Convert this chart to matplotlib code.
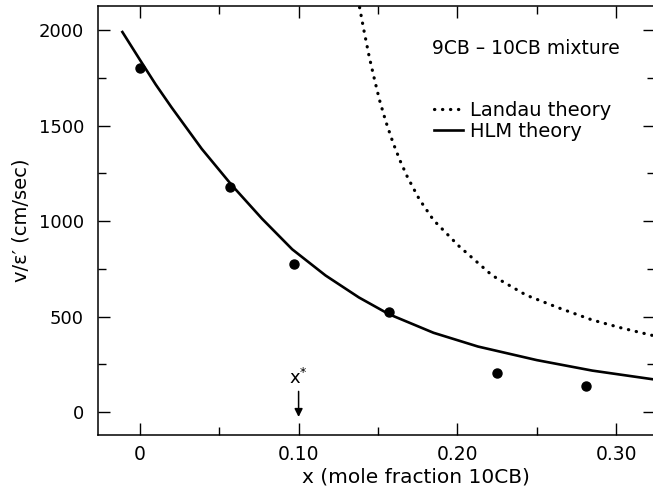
import numpy as np
import matplotlib
matplotlib.use("Agg")
from matplotlib import pyplot as plt
from matplotlib.ticker import MultipleLocator, FixedFormatter, FixedLocator

# measured points
x_data = [0.0, 0.057, 0.097, 0.157, 0.225, 0.281]
v_data = [1800, 1180, 775, 525, 205, 135]

x_hlm = [-0.011, 0.0, 0.01, 0.02, 0.039, 0.058, 0.077, 0.096, 0.117, 0.138,
         0.157, 0.185, 0.213, 0.25, 0.285, 0.3245]
v_hlm = [1990, 1845, 1715, 1595, 1378, 1187, 1012, 852, 715, 600,
         512, 415, 343, 272, 217, 170]

x_lan = [0.1375, 0.141, 0.1445, 0.148, 0.151, 0.155, 0.1595, 0.164, 0.1686,
         0.176, 0.185, 0.201, 0.222, 0.2434, 0.264, 0.285, 0.3035, 0.3245]
v_lan = [2160, 2005, 1860, 1735, 1633, 1520, 1410, 1315, 1230,
         1115, 1005, 869, 715, 612, 545, 482, 440, 398]

x_ticks = [0, 0.10, 0.20, 0.30]
x_tick_labels = ["0", "0.10", "0.20", "0.30"]
y_ticks = [0, 500, 1000, 1500, 2000]

plt.rcParams["font.family"] = ["DejaVu Sans"]

fig = plt.figure(figsize=(6.53, 5.04), dpi=100)
ax = fig.add_axes([0.150, 0.137, 0.853, 0.851])

ax.plot(x_lan, v_lan, color="black", lw=2.3, linestyle=(0, (0.1, 2.4)),
        dash_capstyle="round", label="Landau theory")
ax.plot(x_hlm, v_hlm, color="black", lw=1.9, label="HLM theory")
ax.plot(x_data, v_data, "o", color="black", ms=6.5)

ax.set_xlim(-0.0264, 0.3245)
ax.set_ylim(-120, 2126)

ax.xaxis.set_major_locator(FixedLocator(x_ticks))
ax.xaxis.set_major_formatter(FixedFormatter(x_tick_labels))
ax.xaxis.set_minor_locator(MultipleLocator(0.05))
ax.yaxis.set_major_locator(FixedLocator(y_ticks))
ax.yaxis.set_minor_locator(MultipleLocator(250))

ax.tick_params(which="both", direction="in", top=True, right=True, width=1.0)
ax.tick_params(which="major", length=8.3)
ax.tick_params(which="minor", length=5.8)
ax.tick_params(axis="y", pad=10, labelsize=13)
ax.tick_params(axis="x", pad=7, labelsize=13.5)
for s in ax.spines.values():
    s.set_linewidth(1.1)

ax.set_ylabel("v/\u03b5\u2032 (cm/sec)", fontsize=14, labelpad=6)
ax.set_xlabel("x (mole fraction 10CB)", fontsize=14.5)
ax.xaxis.set_label_coords(0.57, -0.075)

ax.text(0.184, 1906, "9CB \u2013 10CB mixture", fontsize=13.5,
        ha="left", va="center")

ax.annotate("", xy=(0.10, -26), xytext=(0.10, 108),
            arrowprops=dict(arrowstyle="-|>", color="black", lw=1.1,
                            mutation_scale=12, shrinkA=0, shrinkB=0))
ax.text(0.10, 178, "x$^{*}$", fontsize=13, ha="center", va="center")

ax.legend(loc="center left", bbox_to_anchor=(0.6036, 0.732),
          frameon=False, fontsize=14, handlelength=1.5,
          handletextpad=0.35, labelspacing=0.12, borderpad=0,
          borderaxespad=0)

fig.savefig("out.png", dpi=100)
